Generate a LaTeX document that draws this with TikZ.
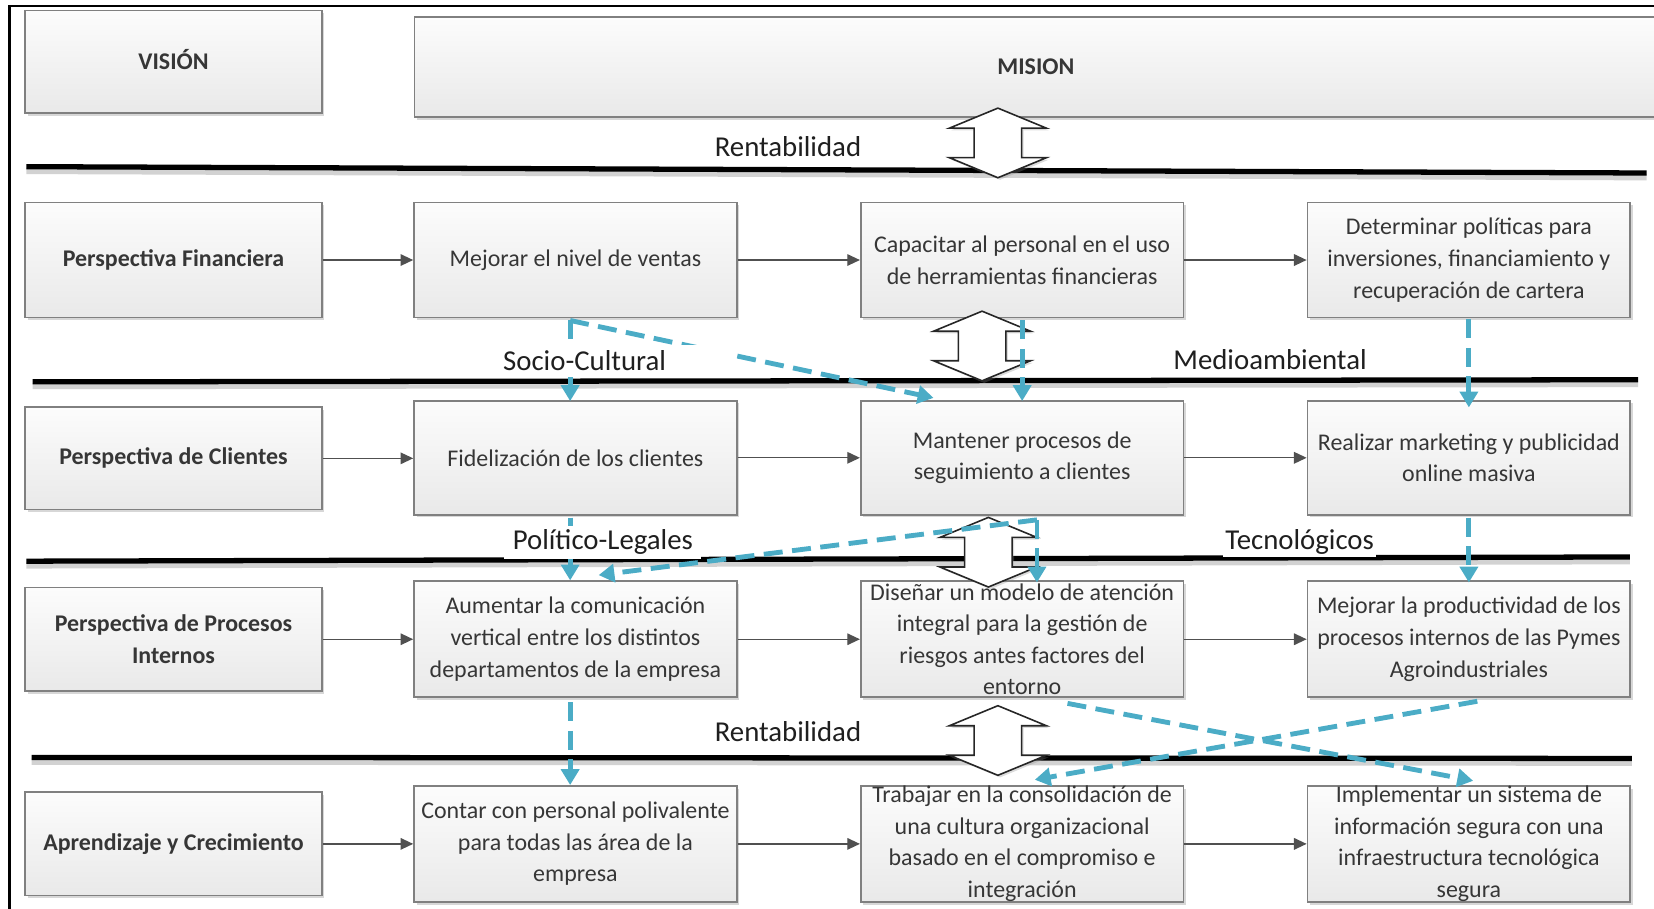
\documentclass[tikz,border=0pt]{standalone}
\usepackage{fontspec}
\setmainfont{Carlito}
\usetikzlibrary{arrows.meta,shadows}
\definecolor{boxline}{HTML}{808080}
\definecolor{boxtop}{HTML}{FCFCFC}
\definecolor{boxbot}{HTML}{E9E9E9}
\definecolor{txtgray}{HTML}{363636}
\definecolor{dblue}{HTML}{4BACC6}
\definecolor{conngray}{HTML}{505050}
\tikzset{
 box/.style={draw=boxline,line width=1.6pt,top color=boxtop,bottom color=boxbot,inner sep=0pt,
   drop shadow={shadow xshift=2.5pt,shadow yshift=-2.5pt,opacity=.35,fill=black!45}},
 btxt/.style={font=\fontsize{22.7}{30}\selectfont,text=txtgray,align=center,inner sep=0pt},
 bbtxt/.style={btxt,font=\fontsize{22.7}{30}\selectfont\bfseries},
 lbl/.style={font=\fontsize{27.3}{32}\selectfont,text=black!88,fill=white,inner sep=2pt},
 conn/.style={draw=conngray,line width=1.3pt,-{Triangle[length=12pt,width=11pt]}},
 sepline/.style={line width=5pt,black},
 sepshadow/.style={line width=6pt,black!35,opacity=.5},
 dashar/.style={draw=dblue,line width=4.6pt,dash pattern=on 18pt off 9pt,-{Triangle[length=15pt,width=17pt]}},
 dbl/.style={draw=black!85,line width=1.5pt,fill=white,line join=miter,
   drop shadow={shadow xshift=2pt,shadow yshift=-2pt,opacity=.3,fill=black!45}},
 udarrow/.pic={\path[dbl] (0,-33) -- (46,-14) -- (22.5,-14) -- (22.5,14) -- (46,14) -- (0,33)
     -- (-46,14) -- (-22.5,14) -- (-22.5,-14) -- (-46,-14) -- cycle;}
}
\begin{document}
\begin{tikzpicture}[x=1pt,y=-1pt]
\useasboundingbox (0,0) rectangle (1568,861);
\clip (0,0) rectangle (1568,861);
% frame
\draw[line width=2pt] (9,862) -- (9,6) -- (1570,6);

% top row
\node[box,minimum width=281pt,minimum height=97pt] (vis) at (164.5,58.5) {};
\node[bbtxt] (visT) at ([yshift=2pt]vis.center) {VISIÓN};
\node[box,minimum width=1178pt,minimum height=95pt] (mis) at (982,63.5) {};
\node[bbtxt] (misT) at (mis) {MISION};

% row 1
\node[box,minimum width=281pt,minimum height=109pt] (b10) at (164.5,246.5) {};
\node[box,minimum width=306pt,minimum height=109pt] (b11) at (545.5,246.5) {};
\node[box,minimum width=306pt,minimum height=109pt] (b12) at (969,246.5) {};
\node[box,minimum width=306pt,minimum height=109pt] (b13) at (1392.5,246.5) {};
\node[bbtxt] (t10) at (b10) {Perspectiva Financiera};
\node[btxt] (t11) at (b11) {Mejorar el nivel de ventas};
\node[btxt] (t12) at (b12) {Capacitar al personal en el uso\\de herramientas financieras};
\node[btxt] (t13) at (b13) {Determinar políticas para\\inversiones, financiamiento y\\recuperación de cartera};

% row 2
\node[box,minimum width=281pt,minimum height=97pt] (b20) at (164.5,434.5) {};
\node[box,minimum width=306pt,minimum height=108pt] (b21) at (545.5,434) {};
\node[box,minimum width=306pt,minimum height=108pt] (b22) at (969,434) {};
\node[box,minimum width=306pt,minimum height=108pt] (b23) at (1392.5,434) {};
\node[bbtxt] (t20) at (b20) {Perspectiva de Clientes};
\node[btxt] (t21) at (b21) {Fidelización de los clientes};
\node[btxt] (t22) at (b22) {Mantener procesos de\\seguimiento a clientes};
\node[btxt] (t23) at (b23) {Realizar marketing y publicidad\\online masiva};

% row 3
\node[box,minimum width=281pt,minimum height=98pt] (b30) at (164.5,606) {};
\node[box,minimum width=306pt,minimum height=110pt] (b31) at (545.5,606) {};
\node[box,minimum width=306pt,minimum height=110pt] (b32) at (969,606) {};
\node[box,minimum width=306pt,minimum height=110pt] (b33) at (1392.5,606) {};
\node[bbtxt] (t30) at (b30) {Perspectiva de Procesos\\Internos};
\node[btxt] (t31) at (b31) {Aumentar la comunicación\\vertical entre los distintos\\departamentos de la empresa};
\node[btxt] (t32) at (b32) {Diseñar un modelo de atención\\integral para la gestión de\\riesgos antes factores del\\entorno};
\node[btxt] (t33) at (b33) {Mejorar la productividad de los\\procesos internos de las Pymes\\Agroindustriales};

% row 4
\node[box,minimum width=281pt,minimum height=98pt] (b40) at (164.5,800) {};
\node[box,minimum width=306pt,minimum height=110pt] (b41) at (545.5,800) {};
\node[box,minimum width=306pt,minimum height=110pt] (b42) at (969,800) {};
\node[box,minimum width=306pt,minimum height=110pt] (b43) at (1392.5,800) {};
\node[bbtxt] (t40) at (b40) {Aprendizaje y Crecimiento};
\node[btxt] (t41) at (b41) {Contar con personal polivalente\\para todas las área de la\\empresa};
\node[btxt] (t42) at (b42) {Trabajar en la consolidación de\\una cultura organizacional\\basado en el compromiso e\\integración};
\node[btxt] (t43) at (b43) {Implementar un sistema de\\información segura con una\\infraestructura tecnológica\\segura};

% solid connectors
\foreach \r in {1,2,3,4}{
  \draw[conn] (b\r0.east) -- (b\r0.east -| b\r1.west);
  \draw[conn] (b\r1.east) -- (b\r2.west);
  \draw[conn] (b\r2.east) -- (b\r3.west);
}

% separator lines
\draw[sepshadow] (25,162) -- (1561,168);
\draw[sepline] (25,158) -- (1561,164);
\draw[sepshadow] (31,366) -- (1553,364);
\draw[sepline] (31,362) -- (1553,360);
\draw[sepshadow] (25,536) -- (1545,532);
\draw[sepline] (25,532) -- (1545,528);
\draw[sepshadow] (30,722) -- (1547,723);
\draw[sepline] (30,718) -- (1547,719);

% double arrows
\pic at (946,135.5) {udarrow};
\pic at (931,328) {udarrow};
\pic at (937,523.5) {udarrow};
\pic at (946,702) {udarrow};

% dashed connectors
\coordinate (c11) at ([xshift=-5pt,yshift=-2pt]b11.south);
\draw[dashar] (c11) -- ([xshift=-5pt,yshift=-1pt]b21.north);
\draw[dashar] (c11) -- ([xshift=-84pt,yshift=2pt]b22.north);
\draw[dashar] ([yshift=-2pt]b12.south) -- ([yshift=-1pt]b22.north);
\draw[dashar] ([yshift=-1pt]b13.south) -- ([yshift=-7pt]b23.north);
\draw[dashar] ([xshift=-5pt,yshift=-2pt]b21.south) -- ([xshift=-5pt]b31.north);
\coordinate (c22) at ([xshift=14pt,yshift=-4pt]b22.south);
\draw[dashar] (c22) -- ([xshift=14pt,yshift=-2pt]b32.north);
\draw[dashar] (c22) -- ([xshift=22pt,yshift=5pt]b31.north);
\draw[dashar] ([yshift=-2pt]b23.south) -- ([yshift=-2pt]b33.north);
\draw[dashar] ([xshift=-5pt,yshift=-4pt]b31.south) -- ([xshift=-5pt]b41.north);
\draw[dashar] ([xshift=43pt,yshift=-5pt]b32.south) -- ([xshift=4pt,yshift=4pt]b43.north);
\draw[dashar] ([xshift=8pt,yshift=-3pt]b33.south) -- ([xshift=12pt,yshift=5pt]b42.north);

% labels
\node[lbl] (l1) at (747,139) {Rentabilidad};
\node[lbl,minimum width=227pt,minimum height=30pt,text width=213pt,align=left,inner xsep=7pt] (l2) at (583.5,342) {Socio-Cultural};
\node[lbl] (l3) at (1204,341) {Medioambiental};
\node[lbl,minimum width=187pt,minimum height=31pt] (l4) at (571.5,514) {Político-Legales};
\node[lbl] (l5) at (1232,514) {Tecnológicos};
\node[lbl] (l6) at (747,694) {Rentabilidad};
\end{tikzpicture}
\end{document}
